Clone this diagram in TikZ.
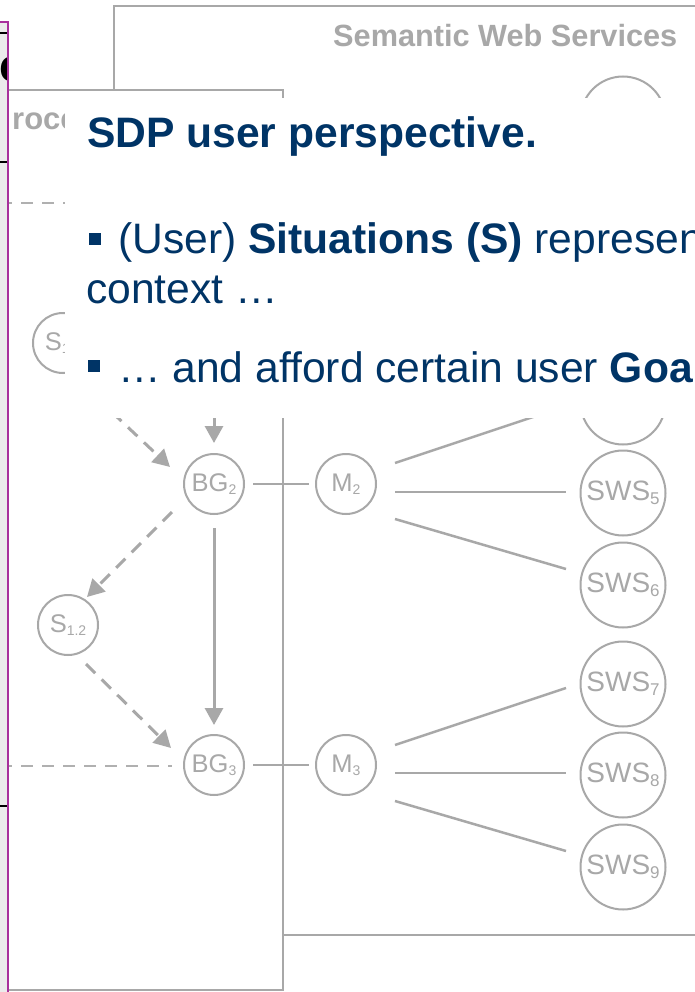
\documentclass[tikz,border=0pt]{standalone}
\usepackage{fontspec}
\setmainfont{Liberation Sans}
\usetikzlibrary{arrows.meta,calc}
\definecolor{linegray}{HTML}{A8A8A8}
\definecolor{dashgray}{HTML}{B0B0B0}
\definecolor{navy}{HTML}{003466}
\definecolor{stripgray}{HTML}{EBEBEB}
\definecolor{framemag}{HTML}{A8309C}
% small lowered indices inside the circles
\newcommand{\lowsub}[1]{\raisebox{-3pt}{\fontsize{14}{14}\selectfont #1}}
\newcommand{\svcsub}[1]{\raisebox{-4pt}{\fontsize{17}{17}\selectfont #1}}
\tikzset{
  state/.style={circle, draw=linegray, line width=2pt, minimum size=60pt,
    inner sep=0pt, text=linegray, font=\fontsize{25.5}{25.5}\selectfont},
  svc/.style={state, minimum size=85pt, font=\fontsize{28}{28}\selectfont},
  link/.style={draw=linegray, line width=2.5pt},
  flow/.style={draw=linegray, line width=3pt,
    -{Triangle[length=17pt,width=18pt]}},
  dflow/.style={flow, dash pattern=on 13pt off 9pt},
  dline/.style={draw=dashgray, line width=2pt, dash pattern=on 12pt off 9pt},
  boxline/.style={draw=linegray, line width=2.5pt, fill=white},
  bodytext/.style={anchor=base west, inner sep=0pt, text=navy,
    font=\fontsize{42.6}{48}\selectfont},
  bulletsq/.style={fill=navy, minimum size=12pt, inner sep=0pt},
  captext/.style={anchor=base west, inner sep=0pt, text=linegray}
}
\begin{document}
\begin{tikzpicture}[x=1pt, y=-1pt]
\useasboundingbox (0,0) rectangle (695,992);
\clip (0,0) rectangle (695,992);
\fill[white] (0,0) rectangle (695,992);

% service area and process area frames
\draw[boxline] (114,6) rectangle (710,935);
\node[captext, font=\bfseries\fontsize{30.7}{32}\selectfont] (swstitle) at (333,47) {Semantic Web Services};
\draw[boxline] (-10,90) rectangle (283,990);
\node[captext, font=\bfseries\fontsize{31}{32}\selectfont] (proctitle) at (12,130) {roce};
\coordinate (lane0) at (0,203);
\coordinate (lane1) at (90,203);
\draw[dline] (lane0) -- (lane1);

% goal, mediator and situation nodes
\node[state] (S11) at (63,343) {S\lowsub{1.1}};
\node[state] (BG2) at (214,484) {BG\lowsub{2}};
\node[state] (M2)  at (346,484) {M\lowsub{2}};
\node[state] (S12) at (68,625) {S\lowsub{1.2}};
\node[state] (BG3) at (214,765) {BG\lowsub{3}};
\node[state] (M3)  at (346,765) {M\lowsub{3}};

% web services
\node[svc] (SWS1) at (623,119) {};
\node[svc] (SWS4) at (623,402) {};
\node[svc] (SWS5) at (623,493) {SWS\svcsub{5}};
\node[svc] (SWS6) at (623,585) {SWS\svcsub{6}};
\node[svc] (SWS7) at (623,684) {SWS\svcsub{7}};
\node[svc] (SWS8) at (623,775) {SWS\svcsub{8}};
\node[svc] (SWS9) at (623,867) {SWS\svcsub{9}};

% goal to mediator links
\draw[link] ([xshift=8pt]BG2.east) -- ([xshift=-6pt]M2.west);
\draw[link] ([xshift=8pt]BG3.east) -- ([xshift=-6pt]M3.west);

% mediator to service links
\draw[link] ([shift={(49,-21)}]M2.center) -- ([shift={(-57,4)}]SWS4.center);
\draw[link] ([shift={(49,8)}]M2.center)   -- ([shift={(-57,-1)}]SWS5.center);
\draw[link] ([shift={(49,35)}]M2.center)  -- ([shift={(-57,-16)}]SWS6.center);
\draw[link] ([shift={(49,-20)}]M3.center) -- ([shift={(-57,4)}]SWS7.center);
\draw[link] ([shift={(49,8)}]M3.center)   -- ([shift={(-57,-2)}]SWS8.center);
\draw[link] ([shift={(49,36)}]M3.center)  -- ([shift={(-57,-16)}]SWS9.center);

% goal refinement flow
\coordinate (fromBG1) at (214,400);
\draw[flow] (fromBG1) -- ([shift={(0,-41)}]BG2.center);
\draw[flow] ([shift={(0,44)}]BG2.center) -- ([shift={(0,-40)}]BG3.center);
\draw[dflow] ([shift={(17,39)}]S11.center) -- ([shift={(-44,-17)}]BG2.center);
\draw[dflow] ([shift={(-42,28)}]BG2.center) -- ([shift={(19,-28)}]S12.center);
\draw[dflow] ([shift={(18,39)}]S12.center) -- ([shift={(-43,-17)}]BG3.center);
\coordinate (lane2) at (0,766);
\draw[dline] (lane2) -- ([shift={(-42,1)}]BG3.center);

% left page edge strip
\fill[stripgray] (0,22) rectangle (8,992);
\begin{scope}
  \clip (0,22) rectangle (8,992);
  \node[anchor=base west, inner sep=0pt, text=black,
    font=\bfseries\fontsize{46}{46}\selectfont] (edgeglyph) at (-1,82) {c};
\end{scope}
\draw[black, line width=2pt] (0,33) -- (7,33);
\draw[black, line width=2pt] (0,162) -- (7,162);
\draw[black, line width=2pt] (0,806) -- (7,806);
\draw[framemag, line width=1.5pt] (0,22) -- (8,22) -- (8,992);

% text panel
\fill[white] (65,98) rectangle (700,418);
\node[bodytext, font=\bfseries\fontsize{42.6}{48}\selectfont] (title) at (87,148) {SDP user perspective.};
\node[bulletsq] (b1) at (95,239) {};
\node[bodytext] (l1) at (118,254) {(User) \textbf{Situations (S)} represen};
\node[bodytext] (l2) at (86,303) {context …};
\node[bulletsq] (b2) at (94,366) {};
\node[bodytext] (l3) at (118,382) {… and afford certain user \textbf{Goa}};
\end{tikzpicture}
\end{document}
